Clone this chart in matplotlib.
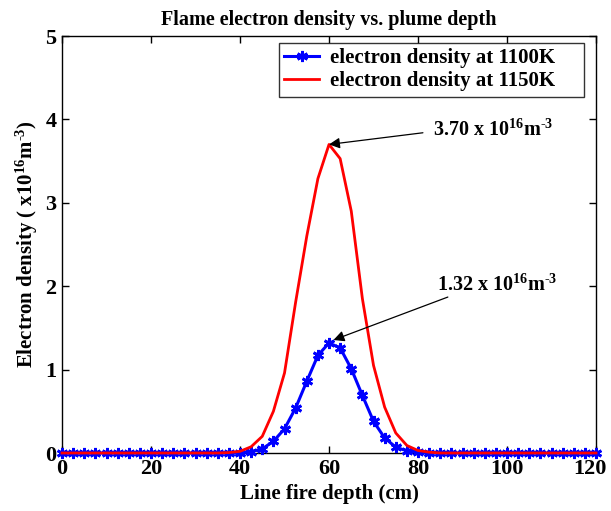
import matplotlib
matplotlib.use("Agg")
import matplotlib.pyplot as plt
import matplotlib.transforms as mtransforms

plt.rcParams["font.family"] = ["Liberation Serif", "DejaVu Serif"]
plt.rcParams["font.weight"] = "bold"
plt.rcParams["mathtext.fontset"] = "custom"
plt.rcParams["mathtext.rm"] = "Liberation Serif:bold"
plt.rcParams["mathtext.bf"] = "Liberation Serif:bold"
plt.rcParams["mathtext.default"] = "bf"

# Line fire depth (cm), step 2.5
depth = [0, 2.5, 5, 7.5, 10, 12.5, 15, 17.5, 20, 22.5, 25, 27.5, 30, 32.5, 35, 37.5,
         40, 42.5, 45, 47.5, 50, 52.5, 55, 57.5, 60, 62.5, 65, 67.5, 70, 72.5, 75,
         77.5, 80, 82.5, 85, 87.5, 90, 92.5, 95, 97.5, 100, 102.5, 105, 107.5, 110,
         112.5, 115, 117.5, 120]

# electron density (x10^16 m^-3)
ne_1100 = [0, 0, 0, 0, 0, 0, 0, 0, 0, 0, 0, 0, 0, 0, 0, 0,
           0.0, 0.015, 0.05, 0.14, 0.29, 0.54, 0.86, 1.17, 1.32, 1.26, 1.01,
           0.69, 0.38, 0.18, 0.07, 0.025, 0.01, 0, 0, 0, 0, 0, 0, 0, 0, 0, 0,
           0, 0, 0, 0, 0, 0]
ne_1150 = [0, 0, 0, 0, 0, 0, 0, 0, 0, 0, 0, 0, 0, 0, 0, 0.005,
           0.02, 0.075, 0.20, 0.50, 0.96, 1.81, 2.60, 3.29, 3.70, 3.53, 2.90,
           1.85, 1.05, 0.55, 0.24, 0.09, 0.03, 0.01, 0, 0, 0, 0, 0, 0, 0, 0, 0,
           0, 0, 0, 0, 0, 0]

fig = plt.figure(figsize=(6.11, 5.11), dpi=100)
ax = fig.add_axes([0.1015, 0.1135, 0.874, 0.816])

ax.plot(depth, ne_1100, color="blue", linewidth=2.2, marker=(6, 2, 0),
        markersize=8, markeredgewidth=2, label="electron density at 1100K",
        clip_on=False, zorder=3)
ax.plot(depth, ne_1150, color="red", linewidth=2, label="electron density at 1150K",
        clip_on=False, zorder=3)

ax.set_xlim(0, 120)
ax.set_ylim(0, 5)
ax.set_xticks([0, 20, 40, 60, 80, 100, 120])
ax.set_yticks([0, 1, 2, 3, 4, 5])
ax.tick_params(direction="in", top=True, right=True, length=5, width=1,
               labelsize=16, pad=4)
for lab in ax.get_xticklabels() + ax.get_yticklabels():
    lab.set_fontweight("bold")
for s in ax.spines.values():
    s.set_linewidth(1)

# keep the last x tick label inside the figure, like the original
last = ax.xaxis.get_major_ticks()[-1].label1
last.set_transform(last.get_transform() +
                   mtransforms.ScaledTranslation(-6 / 100, 0, fig.dpi_scale_trans))

ax.set_title("Flame electron density vs. plume depth", fontsize=14.5,
             fontweight="bold", pad=8)
ax.set_xlabel("Line fire depth (cm)", fontsize=15, fontweight="bold", labelpad=4)
ax.set_ylabel("Electron density ( x10$^{16}$m$^{\\text{-3}}$)", fontsize=15,
              fontweight="bold", labelpad=4)

leg = ax.legend(loc="upper left", bbox_to_anchor=(0.406, 0.858, 0.5715, 0.125),
                mode="expand", fontsize=15, frameon=True, fancybox=False,
                edgecolor="black", borderaxespad=0, handlelength=1.7,
                handletextpad=0.5, borderpad=0.25, labelspacing=0.15)
leg.get_frame().set_linewidth(1)
for t in leg.get_texts():
    t.set_fontweight("bold")

arrow = dict(arrowstyle="-|>", color="black", lw=0.9, mutation_scale=16,
             shrinkA=0, shrinkB=0)
ax.annotate("", xy=(60, 3.70), xytext=(81.1, 3.84), arrowprops=arrow)
ax.text(83.4, 3.87, "3.70 x 10$^{16}$m$^{\\text{-3}}$", fontsize=14.5,
        fontweight="bold", ha="left", va="center")
ax.annotate("", xy=(61, 1.355), xytext=(86.7, 1.87), arrowprops=arrow)
ax.text(84.3, 2.01, "1.32 x 10$^{16}$m$^{\\text{-3}}$", fontsize=14.5,
        fontweight="bold", ha="left", va="center")

fig.savefig("out.png", dpi=100)
